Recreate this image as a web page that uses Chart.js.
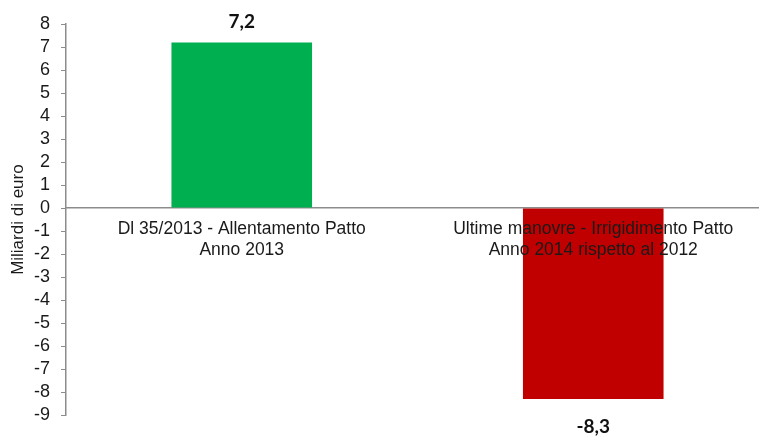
<!DOCTYPE html>
<html>
<head>
<meta charset="utf-8">
<script src="https://cdn.jsdelivr.net/npm/chart.js@4/dist/chart.umd.min.js"></script>
<style>
  html, body { margin: 0; padding: 0; background: #fff; overflow: hidden; }
  #wrap { width: 770px; height: 437px; }
</style>
</head>
<body>
<div id="wrap"><canvas id="pattoChart"></canvas></div>
<script>
const categories = [
  ['Dl 35/2013 - Allentamento Patto', 'Anno 2013'],
  ['Ultime manovre - Irrigidimento Patto', 'Anno 2014 rispetto al 2012']
];
const values = [7.2, -8.3];
const barColors = ['#00B050', '#C00000'];
const yMin = -9;
const yMax = 8;

// etichette dei valori sopra/sotto le barre
const valueLabels = {
  id: 'valueLabels',
  afterDatasetsDraw(chart) {
    const ctx = chart.ctx;
    const meta = chart.getDatasetMeta(0);
    ctx.save();
    ctx.font = 'bold 19px Lato, "Liberation Sans", sans-serif';
    ctx.fillStyle = '#111';
    ctx.textAlign = 'center';
    ctx.textBaseline = 'middle';
    meta.data.forEach((bar, i) => {
      const v = values[i];
      const txt = v.toFixed(1).replace('.', ',');
      const y = v >= 0 ? bar.y - 21 : bar.y + 28;
      ctx.fillText(txt, bar.x, y);
    });
    ctx.restore();
  }
};

const ctx = document.getElementById('pattoChart').getContext('2d');

new Chart(ctx, {
  type: 'bar',
  data: {
    labels: categories,
    datasets: [{
      data: values,
      backgroundColor: barColors,
      borderWidth: 0,
      categoryPercentage: 0.4,
      barPercentage: 1
    }]
  },
  options: {
    responsive: true,
    maintainAspectRatio: false,
    animation: false,
    layout: { padding: { top: 24, bottom: 21, left: 0, right: 1 } },
    plugins: {
      legend: { display: false },
      tooltip: { enabled: false }
    },
    scales: {
      x: {
        position: { y: 0 },
        grid: { display: false, drawTicks: false },
        border: { display: true, color: '#8c8c8c', width: 1.5 },
        ticks: {
          z: 1,
          padding: 11,
          maxRotation: 0,
          autoSkip: false,
          color: '#1a1a1a',
          font: { family: '"Liberation Sans", Arial, sans-serif', size: 17.5, lineHeight: 1.2 }
        }
      },
      y: {
        min: yMin,
        max: yMax,
        afterFit: (scale) => { scale.width = 66; },
        grid: { display: true, drawOnChartArea: false, drawTicks: true, tickLength: 5, color: '#8c8c8c' },
        border: { display: true, color: '#8c8c8c', width: 1.5 },
        ticks: {
          stepSize: 1,
          autoSkip: false,
          padding: 11,
          color: '#1a1a1a',
          font: { family: '"Liberation Sans", Arial, sans-serif', size: 18 }
        },
        title: {
          display: true,
          text: 'Miliardi di euro',
          color: '#1a1a1a',
          padding: { top: 8, bottom: 0 },
          font: { family: '"Liberation Sans", Arial, sans-serif', size: 17 }
        }
      }
    }
  },
  plugins: [valueLabels]
});
</script>
</body>
</html>
